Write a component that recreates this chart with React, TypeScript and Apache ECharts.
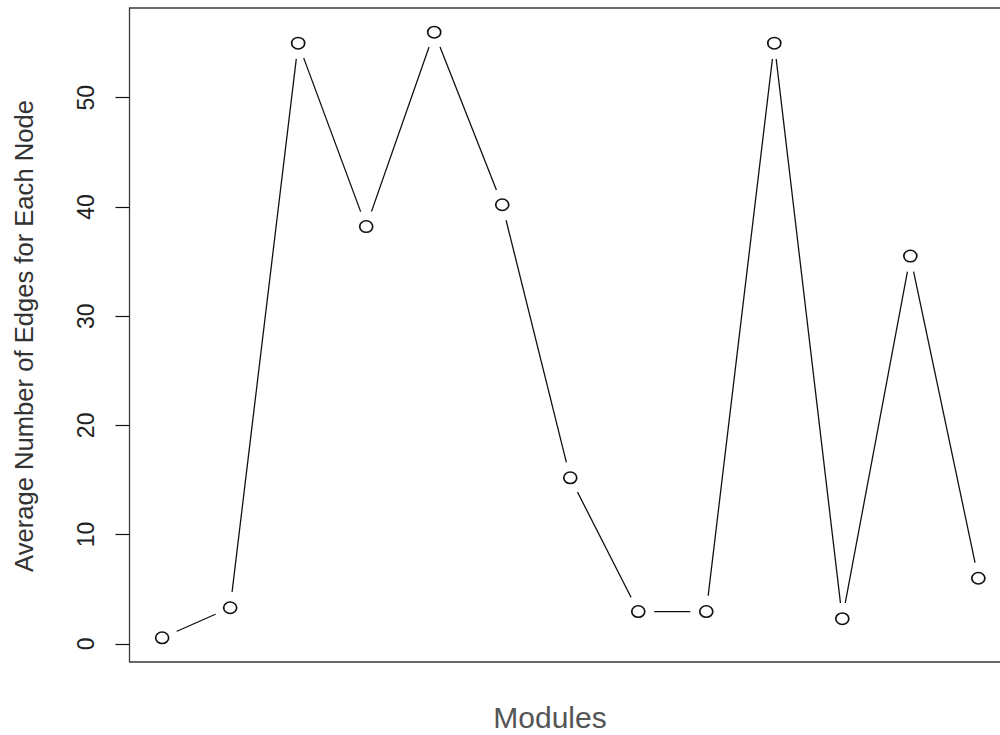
import React, { useEffect, useRef } from "react";
import * as echarts from "echarts";

const modules: number[] = [1, 2, 3, 4, 5, 6, 7, 8, 9, 10, 11, 12, 13];
const avgEdges: number[] = [0.55, 3.3, 55.0, 38.2, 56.0, 40.2, 15.2, 2.95, 2.95, 55.0, 2.3, 35.5, 6.0];
const yTicks: number[] = [0, 10, 20, 30, 40, 50];
const yTitle = "Average Number of Edges for Each Node";
const xTitle = "Modules";

const ELLIPSE = "path://M0,5 A5,5 0 1,1 10,5 A5,5 0 1,1 0,5 Z";

export default function App() {
  const ref = useRef<HTMLDivElement>(null);
  useEffect(() => {
    if (!ref.current) return;
    const chart = echarts.init(ref.current, null, { renderer: "svg" });
    const pts = modules.map((m, i) => [m, avgEdges[i]]);
    const lo = Math.min(...avgEdges);
    const hi = Math.max(...avgEdges);
    const pad = (hi - lo) * 0.04;
    const xPad = (modules[modules.length - 1] - modules[0]) * 0.04;
    chart.setOption({
      animation: false,
      backgroundColor: "#ffffff",
      grid: {
        left: 129.5,
        top: 8,
        right: 9,
        bottom: 73,
        show: true,
        borderColor: "#3a3a3a",
        borderWidth: 1.3,
        backgroundColor: "transparent",
      },
      xAxis: {
        type: "value",
        min: modules[0] - xPad,
        max: modules[modules.length - 1] + xPad,
        show: false,
      },
      yAxis: {
        type: "value",
        min: lo - pad,
        max: hi + pad,
        axisLine: { show: false },
        splitLine: { show: false },
        axisTick: {
          show: true,
          length: 14,
          customValues: yTicks,
          lineStyle: { color: "#111", width: 1.2 },
        },
        axisLabel: {
          customValues: yTicks,
          rotate: 90,
          margin: 32,
          fontFamily: "Liberation Sans, Arial, sans-serif",
          fontSize: 23,
          color: "#222",
        },
      },
      graphic: [
        {
          type: "text",
          x: 24,
          y: 336,
          rotation: Math.PI / 2,
          style: {
            text: yTitle,
            fontFamily: "Liberation Sans, Arial, sans-serif",
            fontSize: 25.6,
            fill: "#333",
            align: "center",
            verticalAlign: "middle",
          },
        },
        {
          type: "text",
          x: 550,
          y: 717,
          style: {
            text: xTitle,
            fontFamily: "Liberation Sans, Arial, sans-serif",
            fontSize: 30,
            fill: "#555",
            align: "center",
            verticalAlign: "middle",
          },
        },
      ],
      series: [
        {
          type: "line",
          data: pts,
          showSymbol: false,
          symbol: "none",
          lineStyle: { color: "#111", width: 1.3 },
          z: 1,
          silent: true,
        },
        {
          type: "scatter",
          data: pts,
          symbol: "circle",
          symbolSize: 32,
          itemStyle: { color: "#ffffff", opacity: 1 },
          z: 2,
          silent: true,
        },
        {
          type: "scatter",
          data: pts,
          symbol: ELLIPSE,
          symbolKeepAspect: false,
          symbolSize: [13, 11.5],
          itemStyle: { color: "#ffffff", borderColor: "#111", borderWidth: 1.6, opacity: 1 },
          z: 3,
          silent: true,
        },
      ],
    });
    return () => chart.dispose();
  }, []);
  return (
    <div style={{ position: "fixed", left: 0, top: 0, width: 1000, height: 735, overflow: "hidden" }}>
      <div ref={ref} style={{ width: 1020, height: 735 }} />
    </div>
  );
}
